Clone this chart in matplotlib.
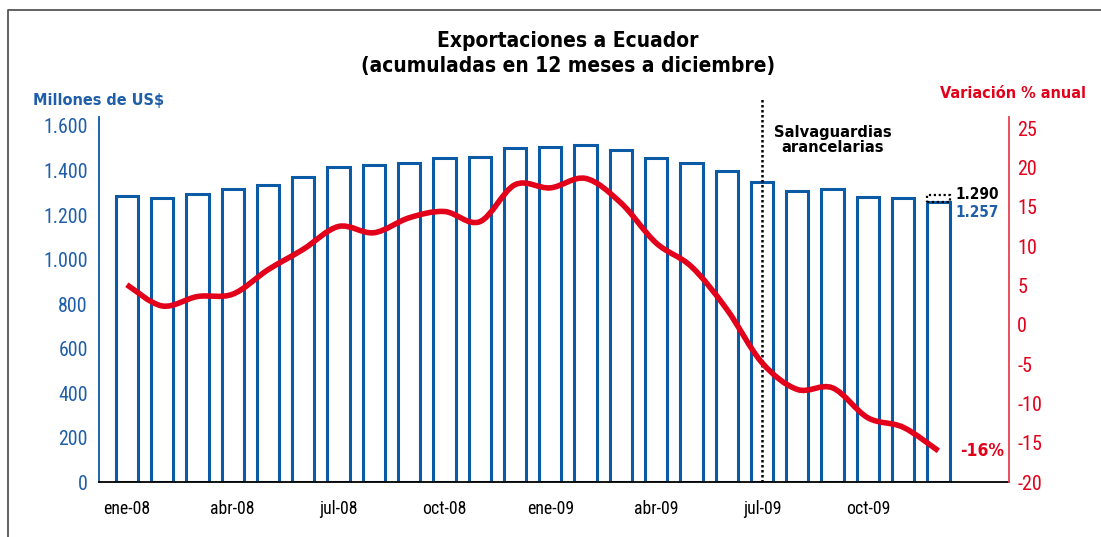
import numpy as np
import matplotlib
matplotlib.use("Agg")
import matplotlib.pyplot as plt
from matplotlib.path import Path
from matplotlib.patches import PathPatch
from matplotlib.lines import Line2D

months = ["ene-08", "feb-08", "mar-08", "abr-08", "may-08", "jun-08", "jul-08", "ago-08",
          "sep-08", "oct-08", "nov-08", "dic-08", "ene-09", "feb-09", "mar-09", "abr-09",
          "may-09", "jun-09", "jul-09", "ago-09", "sep-09", "oct-09", "nov-09", "dic-09"]
exports = [1287, 1278, 1294, 1318, 1336, 1370, 1417, 1423, 1432, 1454, 1462, 1499,
           1507, 1514, 1492, 1454, 1435, 1399, 1347, 1308, 1315, 1283, 1275, 1257]
variation = [5.1, 2.4, 3.6, 3.9, 7.0, 9.6, 12.5, 11.7, 13.6, 14.4, 13.1, 17.8,
             17.4, 18.6, 15.5, 10.4, 7.4, 2.0, -4.8, -8.2, -8.0, -11.8, -13.0, -16.0]
prev_dec = 1290
shown_ticks = ["ene-08", "abr-08", "jul-08", "oct-08", "ene-09", "abr-09", "jul-09", "oct-09"]
safeguard_month = "jul-09"

BLUE = "#0b5aa6"
BLUE_TXT = "#1f5ea8"
RED = "#e2001a"

narrow = ["Roboto Condensed", "DejaVu Sans"]
bold = dict(family="DejaVu Sans", fontstretch="condensed", fontweight="bold")

fig = plt.figure(figsize=(11.01, 5.37), dpi=100)
ax = fig.add_axes([0.0899, 0.1018, 0.8265, 0.6803])
ax2 = ax.twinx()

x = np.arange(len(months))
ax.bar(x, exports, width=0.63, facecolor="white", edgecolor=BLUE, linewidth=2.2, zorder=2)
# dotted box = december 2008 level for comparison
ax.bar(x[-1], prev_dec - exports[-1], bottom=exports[-1], width=0.63, facecolor="none",
       edgecolor="black", linewidth=1.6, linestyle=(0, (1, 1.2)), zorder=3)

ax.set_xlim(-0.79, 25.0)
ax.set_ylim(0, 1640)
ax.set_yticks(range(0, 1601, 200))
ax.set_yticklabels([f"{v:,}".replace(",", ".") for v in range(0, 1601, 200)],
                   family=narrow, fontsize=14.3, color=BLUE_TXT)
tick_pos = [months.index(m) for m in shown_ticks]
ax.set_xticks(tick_pos)
ax.set_xticklabels(shown_ticks, family=narrow, fontsize=12.8)
ax.tick_params(axis="both", length=0)
ax.tick_params(axis="y", pad=8)
ax.tick_params(axis="x", pad=13)
for s in ["top", "right"]:
    ax.spines[s].set_visible(False)
ax.spines["left"].set_color(BLUE)
ax.spines["left"].set_linewidth(1.3)
ax.spines["bottom"].set_color("black")
ax.spines["bottom"].set_linewidth(1.3)

# smoothed line (catmull-rom style bezier, like the spreadsheet smoothing)
pts = np.column_stack([x, variation]).astype(float)
ext = np.vstack([pts[0], pts, pts[-1]])
verts = [tuple(pts[0])]
codes = [Path.MOVETO]
for i in range(len(pts) - 1):
    p0, p1, p2, p3 = ext[i], ext[i + 1], ext[i + 2], ext[i + 3]
    c1 = p1 + (p2 - p0) / 6
    c2 = p2 - (p3 - p1) / 6
    verts += [tuple(c1), tuple(c2), tuple(p2)]
    codes += [Path.CURVE4] * 3
ax2.add_patch(PathPatch(Path(verts, codes), facecolor="none", edgecolor=RED,
                        linewidth=4, capstyle="butt", joinstyle="round", zorder=4))

ax2.set_ylim(-20, 26.4)
ax2.set_yticks(range(-20, 26, 5))
ax2.set_yticklabels([str(v) for v in range(-20, 26, 5)], family=narrow, fontsize=14.5, color=RED)
ax2.tick_params(axis="y", length=0, pad=6)
for s in ["top", "left", "bottom"]:
    ax2.spines[s].set_visible(False)
ax2.spines["right"].set_color("#e8404f")
ax2.spines["right"].set_linewidth(1.3)

# safeguard marker
xs = months.index(safeguard_month)
ax.vlines(xs, 0, 1725, colors="black", linestyles=(0, (1, 1)), linewidth=1.8,
          clip_on=False, zorder=5)
ax.text(xs + 2, 1537, "Salvaguardias\narancelarias", ha="center", va="center",
        fontsize=11.8, linespacing=1.0, zorder=6, **bold)

ax.text(len(months) - 0.52, prev_dec, f"{prev_dec:,}".replace(",", "."), ha="left",
        va="center", fontsize=11, color="black", **bold)
ax.text(len(months) - 0.52, 1212, f"{exports[-1]:,}".replace(",", "."), ha="left",
        va="center", fontsize=11, color=BLUE_TXT, **bold)
ax2.text(len(months) - 0.38, variation[-1], f"{variation[-1]:.0f}%", ha="left",
         va="center", fontsize=12.5, color=RED, **bold)

fig.text(0.516, 0.9, "Exportaciones a Ecuador\n(acumuladas en 12 meses a diciembre)",
         ha="center", va="center", fontsize=15, linespacing=1.3, **bold)
fig.text(0.030, 0.812, "Millones de US$", ha="left", va="center", fontsize=11.6,
         color=BLUE_TXT, **bold)
fig.text(0.986, 0.826, "Variación % anual", ha="right", va="center", fontsize=11.6,
         color=RED, **bold)

# outer frame (cropped on right and bottom)
fig.add_artist(Line2D([0.0073, 0.0073, 1.0], [0.0, 0.9814, 0.9814], transform=fig.transFigure,
                      color="#555555", linewidth=1.3))

fig.savefig("out.png", dpi=100)
plt.close(fig)
